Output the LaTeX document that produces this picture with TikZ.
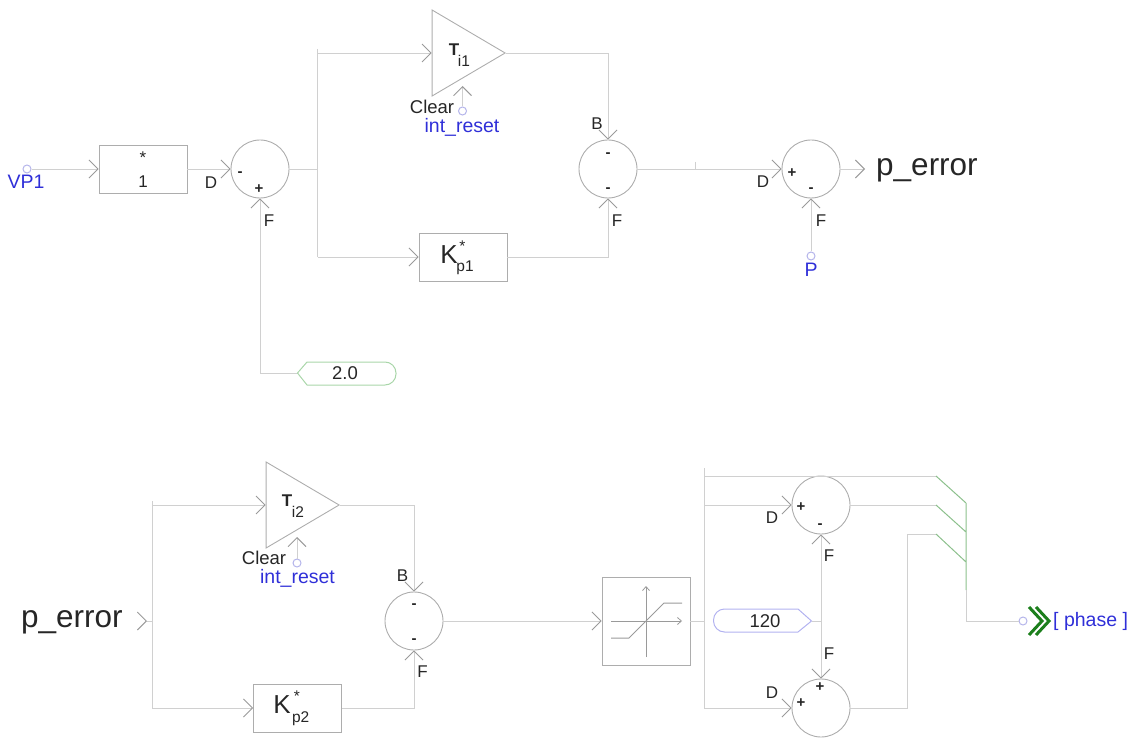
\documentclass[tikz,border=0pt]{standalone}
\usepackage{fontspec}
\setmainfont{Liberation Sans}
\usetikzlibrary{arrows.meta, shapes.geometric}
\definecolor{wirecol}{HTML}{D0D0D0}
\definecolor{blockcol}{HTML}{ADADAD}
\definecolor{tipcol}{HTML}{9A9A9A}
\definecolor{inkcol}{HTML}{262626}
\definecolor{pincol}{HTML}{2F2FD8}
\definecolor{pinring}{HTML}{B4B4EA}
\definecolor{taggreen}{HTML}{A9D6A9}
\definecolor{tagblue}{HTML}{B2B2F0}
\definecolor{mergegreen}{HTML}{8CC08C}
\definecolor{chevgreen}{HTML}{1C7F1C}

\begin{document}
\begin{tikzpicture}[x=1pt, y=-1pt,
        wire/.style={wirecol, line width=.8pt},
        feed/.style={wire, -{Straight Barb[length=9pt, width=18pt, color=tipcol, line width=.9pt]}},
        sumnode/.style={circle, draw=blockcol, line width=.9pt, minimum size=58pt, inner sep=0pt},
        gainbox/.style={rectangle, draw=blockcol, line width=.9pt, minimum width=88pt, minimum height=48pt, inner sep=0pt},
        intnode/.style={isosceles triangle, isosceles triangle apex angle=60, isosceles triangle stretches, draw=blockcol, line width=.9pt, minimum width=86pt, minimum height=73pt, inner sep=0pt, anchor=apex},
        pinnode/.style={circle, draw=pinring, line width=1pt, minimum size=8pt, inner sep=0pt},
        lbl/.style={text=inkcol, inner sep=0pt, font=\fontsize{17}{19}\selectfont},
        signlbl/.style={lbl, font=\bfseries\fontsize{15}{17}\selectfont},
        clearlbl/.style={lbl, font=\fontsize{18.5}{20}\selectfont},
        pinlbl/.style={text=pincol, inner sep=0pt, font=\fontsize{19.5}{21}\selectfont},
        biglbl/.style={text=inkcol, inner sep=0pt, anchor=west, font=\fontsize{31.5}{34}\selectfont},
        subsym/.style={text=inkcol, inner sep=0pt, font=\fontsize{15.5}{17}\selectfont},
        ksym/.style={text=inkcol, inner sep=0pt, font=\fontsize{26}{28}\selectfont},
        tsym/.style={text=inkcol, inner sep=0pt, font=\bfseries\fontsize{17}{19}\selectfont}]
    \useasboundingbox (0,0) rectangle (1133,738);

    \node[pinnode] (vpone) at (27,169) {};
    \node[gainbox] (boxone) at (143,169) {};
    \node[sumnode] (sumone) at (260,169) {};
    \node[intnode] (intone) at (506,53) {};
    \node[gainbox] (kpone) at (463,257) {};
    \node[sumnode] (sumtwo) at (608,169) {};
    \node[sumnode] (sumthree) at (811,169) {};
    \node[pinnode] (pinp) at (811,256) {};
    \node[pinnode] (resetone) at (462.5,111) {};

    \node[intnode] (inttwo) at (340,505) {};
    \node[gainbox] (kptwo) at (297.5,708) {};
    \node[sumnode] (sumfour) at (414,621) {};
    \node[gainbox, minimum width=88pt, minimum height=88pt] (satbox) at (646,621) {};
    \node[sumnode] (sumfive) at (821,505) {};
    \node[sumnode] (sumsix) at (821,708) {};
    \node[pinnode] (resettwo) at (297,563) {};
    \node[pinnode] (phasepin) at (1023,621) {};

    \foreach \n/\x/\y/\t in {dA/211/183/D, fA/269/221/F, bB/597/124/B, fB/617/221/F, dC/763/182/D, fC/821/221/F,
            bD/402.5/576/B, fD/422.5/672/F, dE/772/517.5/D, fE/829/556/F, fF/829/654/F, dF/772/693/D}
        \node[lbl] (\n) at (\x,\y) {\t};
    \foreach \n/\x/\y/\t in {mA/240/174/-, pA/259/189/+, mB/608/155/-, nB/608/190/-, pC/792/173/+, mC/811/190/-,
            mD/414/606/-, nD/414/641/-, pE/801/507.5/+, mE/820/526/-, pF/820/687/+, qF/801/703/+}
        \node[signlbl] (\n) at (\x,\y) {\t};

    \node[pinlbl] (vptext) at (26,182) {VP1};
    \node[lbl] (startext) at (143,158) {*};
    \node[lbl] (onetext) at (143,182) {1};
    \node[tsym] (tone) at (454,50) {T};
    \node[subsym] (tonesub) at (464,61) {i1};
    \node[clearlbl] (clearone) at (432,107) {Clear};
    \node[pinlbl] (resetonetext) at (462,127) {int\_reset};
    \node[ksym] (kone) at (449,255) {K};
    \node[subsym] (konestar) at (462.5,246) {*};
    \node[subsym] (konesub) at (465,268) {p1};
    \node[pinlbl] (ptext) at (811,270) {P};
    \node[biglbl] (errorout) at (876,170) {p\_error};
    \node[tsym] (ttwo) at (287,501) {T};
    \node[subsym] (ttwosub) at (298,512) {i2};
    \node[clearlbl] (cleartwo) at (264,558) {Clear};
    \node[pinlbl] (resettwotext) at (297.5,578) {int\_reset};
    \node[ksym] (ktwo) at (282,705) {K};
    \node[subsym] (ktwostar) at (297,696) {*};
    \node[subsym] (ktwosub) at (300.7,719) {p2};
    \node[biglbl] (errorin) at (21,622) {p\_error};
    \node[pinlbl, anchor=west] (phasetext) at (1053,621) {[ phase ]};

    \coordinate (juncone) at (317.5,169);
    \coordinate (topone) at (317.5,49);
    \coordinate (botone) at (317.5,257);
    \coordinate (errortip) at (865,169);
    \coordinate (tagtwotip) at (297.5,373);
    \coordinate (tickone) at (695,162);
    \coordinate (tickonefoot) at (695,169);

    \draw[feed] (vpone) -- (boxone);
    \draw[feed] (boxone) -- (sumone);
    \draw[wire] (sumone) -- (juncone);
    \draw[wire] (topone) -- (botone);
    \draw[feed] (juncone |- intone.lower side) -- (intone.lower side);
    \draw[feed] (botone) -- (kpone);
    \draw[feed] (intone.apex) -| (sumtwo.north);
    \draw[feed] (kpone) -| (sumtwo.south);
    \draw[feed] (sumtwo) -- (sumthree);
    \draw[wire] (tickone) -- (tickonefoot);
    \draw[feed] (pinp) -- (sumthree);
    \draw[feed] (sumthree) -- (errortip);
    \draw[feed] (resetone) -- (462.5,86);
    \draw[feed] (tagtwotip) -| (sumone.south);
    \draw[taggreen, line width=1pt] (tagtwotip) -- (307,362) [rounded corners=11pt] -- (396,362) -- (396,385) [sharp corners] -- (307,385) -- cycle;
    \node[lbl, font=\fontsize{18.5}{20}\selectfont] (tagtwotext) at (345,373) {2.0};

    \coordinate (errorchev) at (147,621);
    \coordinate (errorstart) at (138,621);
    \coordinate (junctwo) at (152,621);
    \coordinate (toptwo) at (152,501);
    \coordinate (bottwo) at (152,708);
    \draw[-{Straight Barb[length=9pt, width=18pt, color=tipcol, line width=.9pt]}, white] (errorstart) -- (errorchev);
    \draw[wire] (errorchev) -- (junctwo);
    \draw[wire] (toptwo) -- (bottwo);
    \draw[feed] (junctwo |- inttwo.lower side) -- (inttwo.lower side);
    \draw[feed] (bottwo) -- (kptwo);
    \draw[feed] (inttwo.apex) -| (sumfour.north);
    \draw[feed] (kptwo) -| (sumfour.south);
    \draw[feed] (resettwo) -- (297,537);
    \draw[feed] (sumfour) -- (satbox);

    \draw[tipcol, line width=.8pt, -{Straight Barb[length=4pt, width=7pt]}] (646,657) -- (646,586);
    \draw[tipcol, line width=.8pt, -{Straight Barb[length=4pt, width=7pt]}] (611,621) -- (682,621);
    \draw[tipcol, line width=1pt] (611,638) -- (629,638) -- (664,603) -- (682,603);

    \coordinate (bustop) at (704,468);
    \coordinate (busout) at (704,621);
    \coordinate (busbot) at (704,708);
    \coordinate (mergeAin) at (936,476);
    \coordinate (mergeBin) at (936,505);
    \coordinate (mergeCin) at (936,534);
    \coordinate (mergeA) at (966,503);
    \coordinate (mergeB) at (966,532);
    \coordinate (mergeC) at (966,562);
    \coordinate (mergeend) at (966,590);
    \coordinate (mergecorner) at (966,621);
    \coordinate (backbend) at (907,534);
    \coordinate (tagbluetip) at (811.5,621);
    \coordinate (bendblue) at (821,621);
    \draw[wire] (satbox) -- (busout);
    \draw[wire] (bustop) -- (busbot);
    \draw[wire] (704,476) -- (mergeAin);
    \draw[feed] (704,505) -- (sumfive);
    \draw[feed] (busbot) -- (sumsix);
    \draw[wire] (sumfive) -- (mergeBin);
    \draw[wire] (sumsix) -| (backbend) -- (mergeCin);
    \draw[mergegreen, line width=1pt] (mergeAin) -- (mergeA) (mergeBin) -- (mergeB) (mergeCin) -- (mergeC) (mergeA) -- (mergeend);
    \draw[wire] (mergeend) -- (mergecorner) -- (phasepin);

    \draw[tagblue, line width=1pt] (tagbluetip) -- (798,632) [rounded corners=11pt] -- (713.5,632) -- (713.5,609) [sharp corners] -- (798,609) -- cycle;
    \node[lbl, font=\fontsize{18.5}{20}\selectfont] (tagbluetext) at (765,621) {120};
    \draw[wire] (tagbluetip) -- (bendblue);
    \draw[feed] (bendblue) -- (sumfive);
    \draw[feed] (bendblue) -- (sumsix);

    \draw[chevgreen, line width=3pt] (1029,607) -- (1042,621) -- (1029,635);
    \draw[chevgreen, line width=3pt] (1036,607) -- (1049,621) -- (1036,635);
\end{tikzpicture}
\end{document}
